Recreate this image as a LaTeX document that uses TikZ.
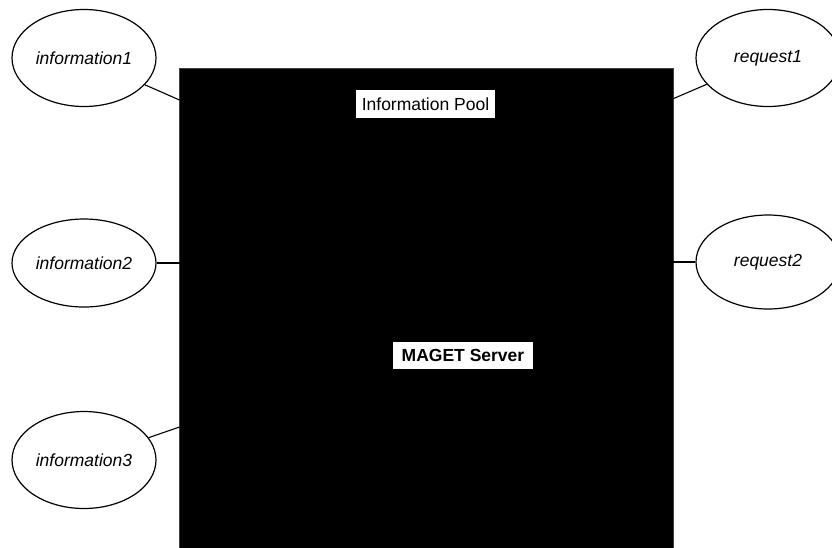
\documentclass[tikz,border=0pt]{standalone}
\usepackage{fontspec}
\setmainfont{Liberation Sans}
\usetikzlibrary{shapes.geometric}
\tikzset{
  ell/.style={ellipse, draw=black, line width=1.2pt, fill=white, inner sep=0pt,
    minimum width=144pt, font=\fontsize{17.5}{21}\selectfont\itshape},
  lbl/.style={rectangle, fill=white, inner sep=0pt, text=black},
  conn/.style={draw=black, line width=1.1pt},
}
\begin{document}
\begin{tikzpicture}[x=1pt,y=-1pt]
\useasboundingbox (0,0) rectangle (832,547);
\fill[white] (0,0) rectangle (832,547);
% server block
\node[rectangle, fill=black, draw=black!75, line width=1pt, minimum width=494pt, minimum height=482pt, inner sep=0pt, anchor=north west] (srv) at (179,68) {};
\node[lbl, minimum width=139pt, minimum height=28pt, font=\fontsize{17.5}{21}\selectfont] (pool) at (425.5,104) {Information Pool};
\node[lbl, minimum width=140pt, minimum height=27pt, font=\fontsize{17.5}{21}\selectfont\bfseries] (maget) at (463,355.5) {MAGET Server};
% ellipses
\node[ell, minimum height=97pt] (i1) at (84,58) {information1};
\node[ell, minimum height=88pt] (i2) at (84,263) {information2};
\node[ell, minimum height=97pt] (i3) at (84,460) {information3};
\node[ell, minimum height=97pt] (r1) at (768,58) {request1};
\node[ell, minimum height=94pt] (r2) at (768,262) {request2};
% attachment points on the server block
\coordinate (p1) at (179.5,100);
\coordinate (p2) at (179.5,263);
\coordinate (p3) at (179.5,427);
\coordinate (q1) at (672.5,99);
\coordinate (q2) at (672.5,262);
\draw[conn] (i1) -- (p1);
\draw[conn] (i2) -- (p2);
\draw[conn] (i3) -- (p3);
\draw[conn] (r1) -- (q1);
\draw[conn] (r2) -- (q2);
\end{tikzpicture}
\end{document}
